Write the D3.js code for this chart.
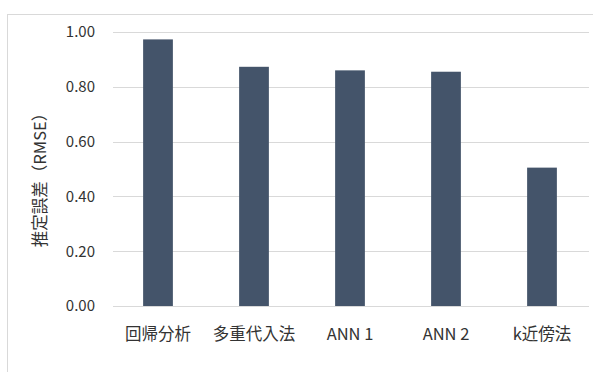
<!DOCTYPE html>
<html><head><meta charset="utf-8">
<script src="https://cdn.jsdelivr.net/npm/d3@7/dist/d3.min.js"></script>
<style>body{margin:0;background:#fff;}svg{display:block;}</style>
</head><body>
<svg id="c" width="593" height="372"></svg>
<script>
const categories = ["回帰分析", "多重代入法", "ANN 1", "ANN 2", "k近傍法"];
const values = [0.973, 0.873, 0.860, 0.855, 0.505];
const yTicks = [0, 0.2, 0.4, 0.6, 0.8, 1.0];
const yTitle = "推定誤差（RMSE）";

const svg = d3.select("#c");
const font = "'Noto Sans CJK JP', 'Noto Sans', sans-serif";
svg.append("rect").attr("x", 7.5).attr("y", 14.5).attr("width", 600).attr("height", 400)
  .attr("fill", "#fff").attr("stroke", "#d9d9d9").attr("stroke-width", 1);

const x = d3.scaleBand().domain(categories).range([110, 590]).paddingInner(0.69).paddingOuter(0.345);
const y = d3.scaleLinear().domain([0, 1]).range([306, 32]);

const grid = svg.append("g");
grid.selectAll("line").data(yTicks).join("line")
  .attr("x1", 113).attr("x2", 589)
  .attr("y1", d => Math.round(y(d)) + 0.5).attr("y2", d => Math.round(y(d)) + 0.5)
  .attr("stroke", "#d9d9d9").attr("stroke-width", 1);

svg.append("g").selectAll("rect").data(values).join("rect")
  .attr("x", (d, i) => x(categories[i])).attr("width", x.bandwidth())
  .attr("y", d => y(d)).attr("height", d => y(0) - y(d))
  .attr("fill", "#44546a");

const yAxis = d3.axisLeft(y).tickValues(yTicks).tickFormat(d3.format(".2f")).tickSize(0).tickPadding(0);
const ya = svg.append("g").attr("transform", "translate(95,0)").call(yAxis);
ya.select(".domain").remove();
ya.selectAll("text").attr("font-family", font).attr("font-size", 15).attr("fill", "#333");

const xAxis = d3.axisBottom(x).tickSize(0).tickPadding(0);
const xa = svg.append("g").attr("transform", "translate(0,340)").call(xAxis);
xa.select(".domain").remove();
xa.selectAll("text").attr("font-family", font).attr("font-size", 16.5).attr("fill", "#333").attr("y", 0).attr("dy", 0);

svg.append("text").attr("transform", "translate(46,176) rotate(-90)")
  .attr("text-anchor", "middle").attr("font-family", font).attr("font-size", 16.5)
  .attr("fill", "#333").text(yTitle);
</script>
</body></html>
